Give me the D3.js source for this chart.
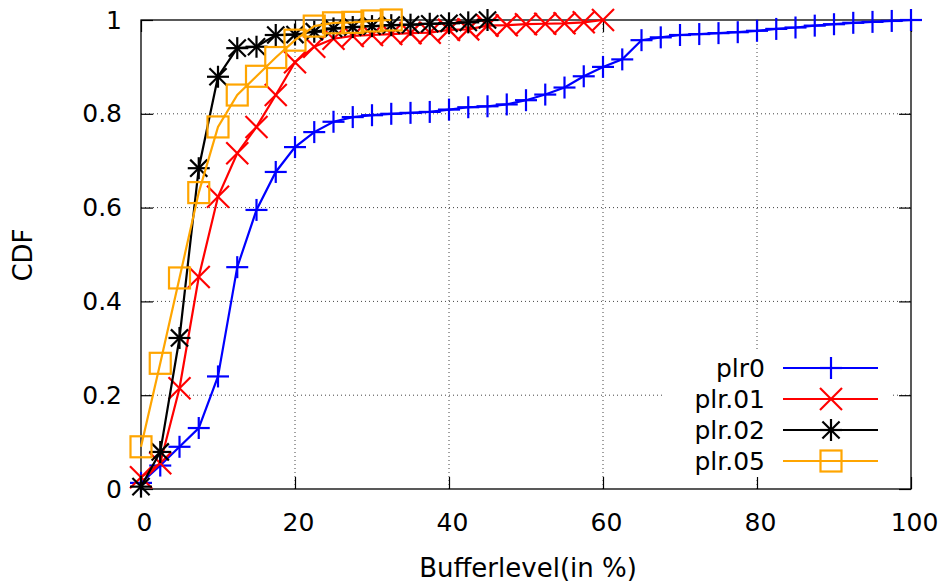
<!DOCTYPE html>
<html>
<head>
<meta charset="utf-8">
<script src="https://cdn.jsdelivr.net/npm/d3@7"></script>
<style>
  body { margin: 0; background: #fff; }
  text { font-family: "DejaVu Sans", sans-serif; }
</style>
</head>
<body>
<div id="chart"></div>
<script>
// buffer level sample points (x), shared by all series
var bufferLevels = [0, 2.5, 5, 7.5, 10, 12.5, 15, 17.5, 20, 22.5, 25, 27.5, 30, 32.5, 35, 37.5, 40,
  42.5, 45, 47.5, 50, 52.5, 55, 57.5, 60, 62.5, 65, 67.5, 70, 72.5, 75, 77.5, 80, 82.5, 85, 87.5,
  90, 92.5, 95, 97.5, 100];

var plr0 = [0.013, 0.05, 0.09, 0.13, 0.24, 0.473, 0.595, 0.676, 0.729, 0.761, 0.783, 0.793, 0.797,
  0.8, 0.802, 0.804, 0.809, 0.814, 0.816, 0.82, 0.829, 0.841, 0.856, 0.88, 0.9, 0.916, 0.957, 0.963,
  0.968, 0.97, 0.972, 0.974, 0.977, 0.981, 0.984, 0.988, 0.991, 0.994, 0.996, 0.998, 1.0];
var plr01 = [0.025, 0.055, 0.215, 0.452, 0.623, 0.716, 0.772, 0.84, 0.91, 0.943, 0.96, 0.966, 0.968,
  0.97, 0.972, 0.973, 0.979, 0.98, 0.988, 0.989, 0.991, 0.992, 0.993, 0.995, 1.0];
var plr02 = [0.005, 0.079, 0.322, 0.684, 0.879, 0.94, 0.943, 0.968, 0.969, 0.975, 0.982, 0.985,
  0.987, 0.989, 0.99, 0.992, 0.993, 0.995, 1.0];
var plr05 = [0.09, 0.268, 0.45, 0.632, 0.772, 0.84, 0.88, 0.92, 0.957, 0.987, 0.994, 0.995, 0.998, 1.0];

var seriesNames = ["plr0", "plr.01", "plr.02", "plr.05"];
var seriesColors = ["#0000ff", "#ff0000", "#000000", "#ffa500"];
var seriesShapes = ["plus", "cross", "star", "square"];

var xTicks = [0, 20, 40, 60, 80, 100];
var yTicks = [0, 0.2, 0.4, 0.6, 0.8, 1];

var width = 945, height = 586;
var margin = { top: 20, right: 34, bottom: 97, left: 141 };
var plotW = width - margin.left - margin.right,
  plotH = height - margin.top - margin.bottom;

var svg = d3.select("#chart").append("svg")
  .attr("width", width)
  .attr("height", height);

var x = d3.scaleLinear().domain([0, 100]).range([margin.left, margin.left + plotW]);
var y = d3.scaleLinear().domain([0, 1]).range([margin.top + plotH, margin.top]);

var tickLen = 12;
var fontSize = 25;

// grid
var grid = svg.append("g");
grid.selectAll(".gx").data(xTicks.slice(1, -1)).enter().append("line")
  .attr("x1", d => x(d)).attr("x2", d => x(d))
  .attr("y1", y(0)).attr("y2", y(1))
  .attr("stroke", "#444").attr("stroke-width", 1).attr("stroke-dasharray", "1,3");
grid.selectAll(".gy").data(yTicks.slice(1, -1)).enter().append("line")
  .attr("x1", x(0)).attr("x2", x(100))
  .attr("y1", d => y(d)).attr("y2", d => y(d))
  .attr("stroke", "#444").attr("stroke-width", 1).attr("stroke-dasharray", "1,3");

// legend background hides the grid behind it
svg.append("rect")
  .attr("x", 665).attr("y", 352).attr("width", 228).attr("height", 125)
  .attr("fill", "#fff");

// axes with inward ticks, mirrored
var fmt = d => d === 0 || d === 1 ? String(d) : d3.format(".1f")(d);
var axB = d3.axisBottom(x).tickValues(xTicks).tickSize(-tickLen).tickPadding(tickLen + 12);
var axT = d3.axisTop(x).tickValues(xTicks).tickSize(-tickLen).tickFormat("");
var axL = d3.axisLeft(y).tickValues(yTicks).tickSize(-tickLen).tickPadding(tickLen + 7).tickFormat(fmt);
var axR = d3.axisRight(y).tickValues(yTicks).tickSize(-tickLen).tickFormat("");

function styleAxis(g) {
  g.select(".domain").remove();
  g.selectAll(".tick line").attr("stroke", "#000").attr("stroke-width", 1.2);
  g.selectAll(".tick text").attr("font-size", fontSize).attr("fill", "#000")
    .style("font-family", "DejaVu Sans");
}
var gB = svg.append("g").attr("transform", "translate(0," + y(0) + ")").call(axB).call(styleAxis);
gB.selectAll(".tick text").attr("dx", 3);
svg.append("g").attr("transform", "translate(0," + y(1) + ")").call(axT).call(styleAxis);
svg.append("g").attr("transform", "translate(" + x(0) + ",0)").call(axL).call(styleAxis);
svg.append("g").attr("transform", "translate(" + x(100) + ",0)").call(axR).call(styleAxis);

// plot border
svg.append("rect")
  .attr("x", x(0)).attr("y", y(1)).attr("width", plotW).attr("height", plotH)
  .attr("fill", "none").attr("stroke", "#000").attr("stroke-width", 1.3);

// axis titles
svg.append("text")
  .attr("x", 528).attr("y", 577)
  .attr("text-anchor", "middle").attr("font-size", 26)
  .text("Bufferlevel(in %)");
svg.append("text")
  .attr("transform", "translate(32,255) rotate(-90)")
  .attr("text-anchor", "middle").attr("font-size", 26)
  .text("CDF");

// markers
var mSize = 11;
function drawMarker(g, shape, cx, cy, color) {
  var s = mSize;
  if (shape === "plus" || shape === "star") {
    g.append("line").attr("x1", cx - s).attr("x2", cx + s).attr("y1", cy).attr("y2", cy);
    g.append("line").attr("x1", cx).attr("x2", cx).attr("y1", cy - s).attr("y2", cy + s);
  }
  if (shape === "cross" || shape === "star") {
    var k = shape === "star" ? s * 0.78 : s;
    g.append("line").attr("x1", cx - k).attr("x2", cx + k).attr("y1", cy - k).attr("y2", cy + k);
    g.append("line").attr("x1", cx - k).attr("x2", cx + k).attr("y1", cy + k).attr("y2", cy - k);
  }
  if (shape === "square") {
    var q = s - 0.5;
    g.append("rect").attr("x", cx - q).attr("y", cy - q).attr("width", 2 * q).attr("height", 2 * q)
      .attr("fill", "none");
  }
  g.attr("stroke", color).attr("stroke-width", 2.2);
}

var allSeries = [plr0, plr01, plr02, plr05];
var line = d3.line().x(d => x(d[0])).y(d => y(d[1]));

allSeries.forEach(function (vals, i) {
  var pts = vals.map((v, j) => [bufferLevels[j], v]);
  var g = svg.append("g");
  g.append("path").datum(pts)
    .attr("d", line)
    .attr("fill", "none")
    .attr("stroke", seriesColors[i])
    .attr("stroke-width", 2.2);
  pts.forEach(function (p) {
    drawMarker(g.append("g"), seriesShapes[i], x(p[0]), y(p[1]), seriesColors[i]);
  });
});

// legend
var legY = [368, 399, 430, 461];
seriesNames.forEach(function (name, i) {
  svg.append("text")
    .attr("x", 765).attr("y", legY[i]).attr("dy", "0.35em")
    .attr("text-anchor", "end").attr("font-size", fontSize)
    .text(name);
  svg.append("line")
    .attr("x1", 783).attr("x2", 878).attr("y1", legY[i]).attr("y2", legY[i])
    .attr("stroke", seriesColors[i]).attr("stroke-width", 2.2);
  drawMarker(svg.append("g"), seriesShapes[i], 831, legY[i], seriesColors[i]);
});
</script>
</body>
</html>
